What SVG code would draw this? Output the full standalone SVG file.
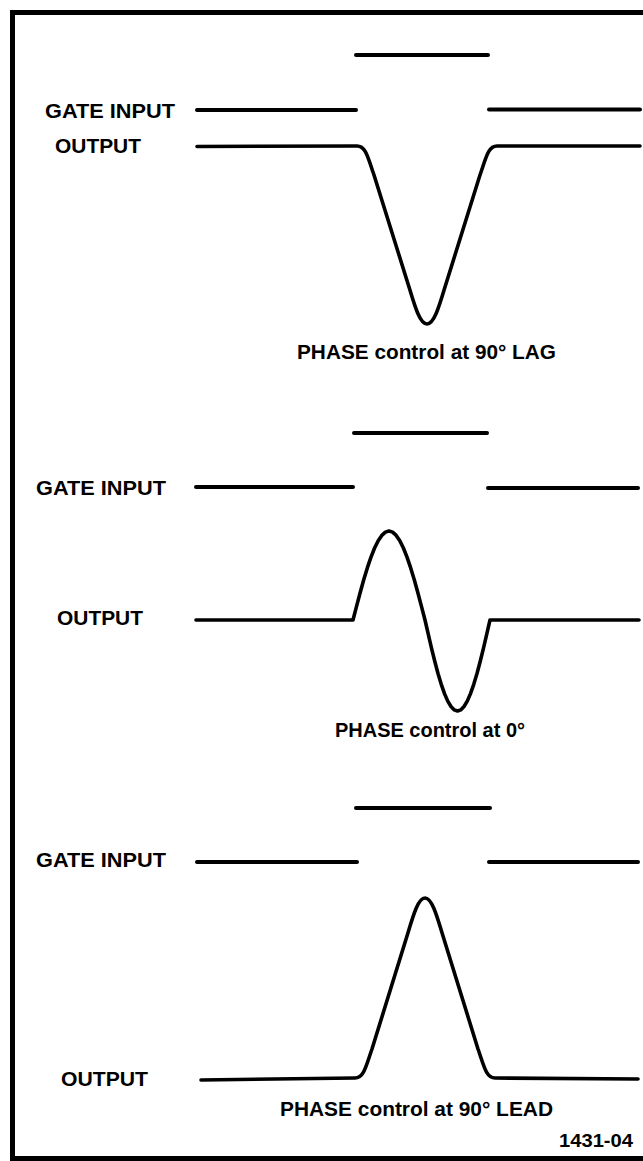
<svg xmlns="http://www.w3.org/2000/svg" width="643" height="1161" viewBox="0 0 643 1161">
  <style>
    .lbl { font-family: "Liberation Sans", Arial, Helvetica, sans-serif; font-weight: bold; font-size: 20px; fill: #000; }
    .gate { fill: none; stroke: #000; stroke-width: 4; stroke-linecap: round; }
    .trace { fill: none; stroke: #000; stroke-width: 3.6; stroke-linecap: round; stroke-linejoin: round; }
    .frame { fill: none; stroke: #000; stroke-width: 5; }
  </style>
  <rect width="643" height="1161" fill="#fff"/>
  <path id="frame" class="frame" d="M643,12.5 H12.5 V1158.5 H643"/>

  <g id="panel-lag">
    <g id="lag-labels">
      <text class="lbl" x="45" y="117.5" textLength="130" lengthAdjust="spacingAndGlyphs">GATE INPUT</text>
      <text class="lbl" x="55" y="153" textLength="86" lengthAdjust="spacingAndGlyphs">OUTPUT</text>
      <text class="lbl" x="297" y="358.5" textLength="259" lengthAdjust="spacingAndGlyphs">PHASE control at 90° LAG</text>
    </g>
    <g id="lag-gate">
      <line class="gate" x1="356" y1="55" x2="488" y2="55"/>
      <line class="gate" x1="197" y1="110" x2="356" y2="110"/>
      <line class="gate" x1="489" y1="109.5" x2="640" y2="109.5"/>
    </g>
    <path id="lag-output" class="trace" d="M197,146.5 L357,146 C366,146 368,158 374,175 L409,287 C415,307 420,324 427,324 C434,324 439,307 445,287 L480,175 C486,158 488,146 497,146 L640,146"/>
  </g>

  <g id="panel-zero">
    <g id="zero-labels">
      <text class="lbl" x="36" y="495" textLength="130" lengthAdjust="spacingAndGlyphs">GATE INPUT</text>
      <text class="lbl" x="57" y="625" textLength="86" lengthAdjust="spacingAndGlyphs">OUTPUT</text>
      <text class="lbl" x="335" y="737" textLength="190" lengthAdjust="spacingAndGlyphs">PHASE control at 0°</text>
    </g>
    <g id="zero-gate">
      <line class="gate" x1="354" y1="433" x2="487" y2="433"/>
      <line class="gate" x1="196" y1="487" x2="353" y2="487"/>
      <line class="gate" x1="488" y1="488" x2="638" y2="488"/>
    </g>
    <polyline id="zero-output" class="trace" points="196,620 353,620 356.6,606.1 360.2,592.5 363.8,579.6 367.4,567.7 371,557.1 374.6,548 378.2,540.7 381.8,535.4 385.4,532.1 389,531 392.6,532.1 396.2,535.4 399.8,540.7 403.4,548 407,557.1 410.6,567.7 414.2,579.6 417.8,592.5 421.4,606.1 425,620 428.25,634.2 431.5,648.1 434.75,661.3 438,673.5 441.25,684.3 444.5,693.6 447.75,701.1 451,706.5 454.25,709.9 457.5,711 460.75,709.9 464,706.5 467.25,701.1 470.5,693.6 473.75,684.3 477,673.5 480.25,661.3 483.5,648.1 486.75,634.2 490,620 639,620"/>
  </g>

  <g id="panel-lead">
    <g id="lead-labels">
      <text class="lbl" x="36" y="867" textLength="130" lengthAdjust="spacingAndGlyphs">GATE INPUT</text>
      <text class="lbl" x="61" y="1086" textLength="87" lengthAdjust="spacingAndGlyphs">OUTPUT</text>
      <text class="lbl" x="280" y="1116" textLength="273" lengthAdjust="spacingAndGlyphs">PHASE control at 90° LEAD</text>
    </g>
    <g id="lead-gate">
      <line class="gate" x1="356" y1="808" x2="490" y2="808"/>
      <line class="gate" x1="197" y1="862" x2="357" y2="862"/>
      <line class="gate" x1="489" y1="862" x2="638" y2="862"/>
    </g>
    <path id="lead-output" class="trace" d="M201,1080 L355,1078 C364,1078 366,1066 372,1049 L407,936 C413,916 418,898 425,898 C432,898 437,916 443,936 L478,1049 C484,1066 486,1078 495,1078 L638,1079"/>
  </g>

  <text id="figure-number" class="lbl" style="font-size:19px" x="559" y="1147" textLength="74" lengthAdjust="spacingAndGlyphs">1431-04</text>
</svg>
